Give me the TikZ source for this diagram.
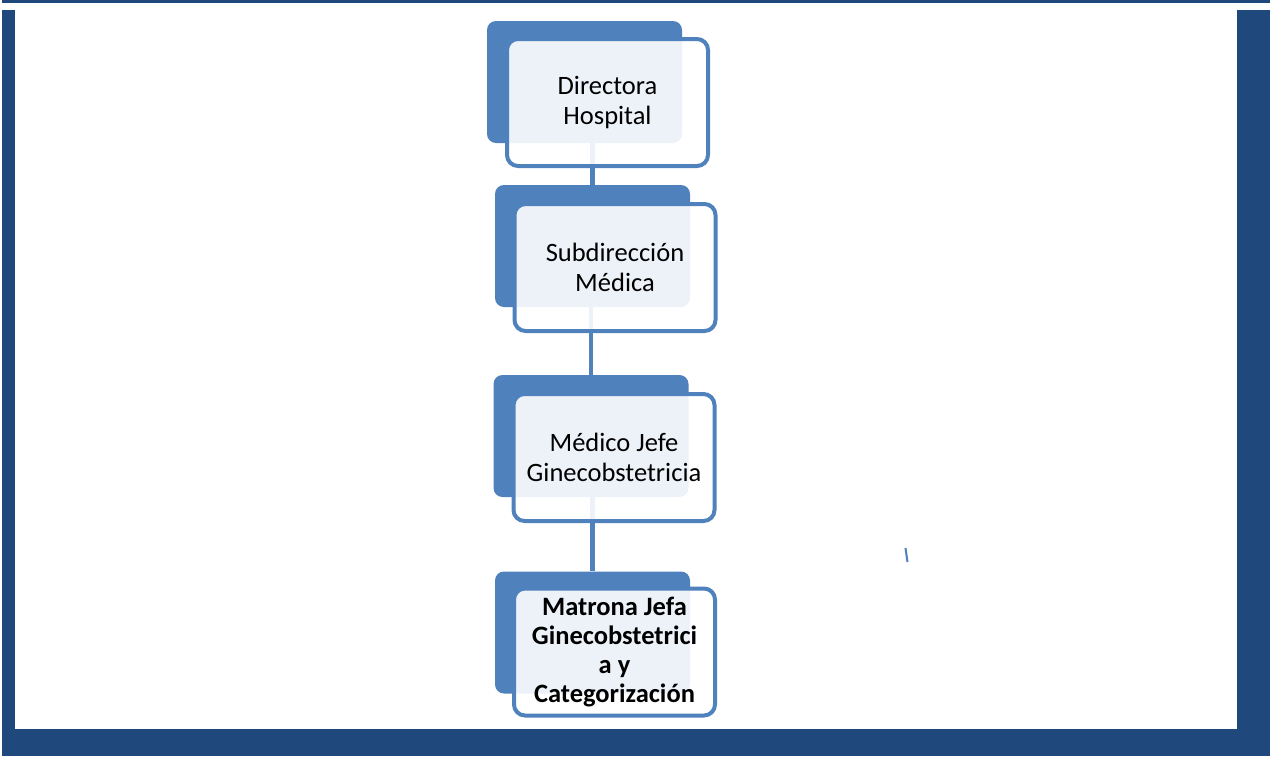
\documentclass[tikz,border=0pt]{standalone}
\usepackage{fontspec}
\setmainfont{Carlito}
\pgfdeclarelayer{bg}
\pgfsetlayers{bg,main}
\definecolor{frameblue}{RGB}{31,73,125}
\definecolor{boxblue}{RGB}{79,129,189}
\tikzset{
  backbox/.style={rectangle, rounded corners=9pt, fill=boxblue, minimum width=195pt, minimum height=122pt, inner sep=0pt},
  frontbox/.style={rectangle, rounded corners=11pt, draw=boxblue, line width=4pt, fill=white, fill opacity=0.9, text opacity=1, minimum width=201pt, minimum height=127pt, inner sep=0pt, align=center, font=\fontsize{26.5}{29.5}\selectfont, text=black},
  conn/.style={draw=boxblue, line width=4.5pt}
}
\begin{document}
\begin{tikzpicture}[x=1pt,y=-1pt]
\useasboundingbox (0,0) rectangle (1270,756);
% back boxes
\node[backbox] (b1) at (584.5,82) {};
\node[backbox] (b2) at (592.5,246) {};
\node[backbox] (b3) at (591,436) {};
\node[backbox] (b4) at (592.5,632.5) {};
% front boxes
\node[frontbox] (f1) at (607.5,102.5) {Directora\\Hospital};
\node[frontbox] (f2) at (615,267.5) {Subdirección\\Médica};
\node[frontbox] (f3) at (614,457.5) {Médico Jefe\\Ginecobstetricia};
\node[frontbox, font=\fontsize{26.5}{29}\selectfont\bfseries] (f4) at (614.5,652) {Matrona Jefa\\Ginecobstetrici\\a y\\Categorización};
% background, frame and connectors
\begin{pgfonlayer}{bg}
\fill[white] (0,0) rectangle (1270,756);
\fill[frameblue] (2,0) rectangle (1270,2.5);
\fill[frameblue] (2,10) rectangle (15,756);
\fill[frameblue] (1237,10) rectangle (1270,756);
\fill[frameblue] (2,729) rectangle (1270,756);
\draw[conn] (b2.north) -- (b2.north |- b1.south);
\draw[conn] (b3.north) -- (b3.north |- b2.south);
\draw[conn] (b4.north) -- (b4.north |- b3.south);
\end{pgfonlayer}
% stray mark
\coordinate (m1) at (905.5,548);
\coordinate (m2) at (907.5,562);
\draw[boxblue, line width=2pt] (m1) -- (m2);
\end{tikzpicture}
\end{document}
